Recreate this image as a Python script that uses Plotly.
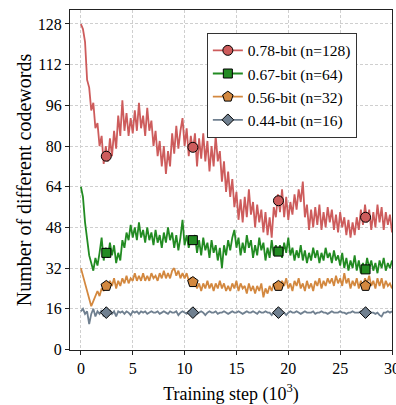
import plotly.graph_objects as go

# ---------------- data ----------------
step_size = 0.2  # training-step grid (10^3 steps)
n_points = 151
steps = [round(i * step_size, 2) for i in range(n_points)]

red_128 = [
    128, 126, 121, 106, 103, 94, 97, 87, 89, 80,
    84, 73, 80, 74, 83, 76, 86, 79, 92, 84,
    98, 86, 93, 84, 91, 85, 94, 86, 97, 87,
    92, 84, 95, 86, 90, 80, 86, 76, 82, 72,
    80, 69, 78, 72, 85, 77, 88, 79, 86, 91,
    80, 87, 76, 84, 78, 85, 72, 83, 75, 85,
    74, 82, 70, 80, 72, 84, 74, 78, 66, 74,
    62, 70, 60, 67, 56, 62, 51, 59, 50, 60,
    52, 63, 53, 58, 48, 57, 50, 55, 46, 54,
    45, 52, 44, 56, 52, 61, 54, 63, 52, 60,
    51, 58, 53, 61, 55, 63, 58, 66, 52, 57,
    47, 55, 48, 56, 49, 57, 47, 54, 48, 56,
    50, 55, 47, 53, 46, 54, 48, 52, 45, 51,
    44, 50, 45, 52, 47, 55, 49, 57, 50, 55,
    47, 54, 48, 57, 50, 56, 47, 54, 49, 53,
    46,
]

green_64 = [
    64, 60, 50, 44, 37, 34, 31, 36, 33, 38,
    44, 35, 40, 36, 42, 37, 41, 34, 38, 35,
    43, 40, 46, 43, 49, 44, 48, 43, 50, 44,
    47, 42, 48, 43, 46, 41, 47, 42, 45, 40,
    46, 42, 48, 43, 46, 40, 45, 39, 44, 51,
    41, 45, 40, 44, 42, 45, 38, 43, 37, 44,
    39, 42, 36, 43, 38, 41, 35, 40, 32, 41,
    37, 43, 39, 44, 47, 40, 44, 37, 42, 38,
    45, 40, 43, 36, 41, 37, 44, 39, 42, 35,
    40, 36, 43, 37, 41, 38, 41, 36, 42, 38,
    44, 37, 40, 35, 39, 36, 41, 35, 39, 34,
    38, 35, 40, 36, 39, 34, 38, 35, 40, 36,
    38, 34, 39, 35, 37, 33, 38, 32, 36, 31,
    35, 32, 37, 31, 35, 30, 34, 31, 36, 32,
    35, 31, 34, 30, 35, 32, 36, 31, 34, 32,
    35,
]

orange_32 = [
    32, 29, 26, 23, 20, 17, 19, 21, 23, 21,
    24, 23, 26, 24, 27, 25, 28, 24, 27, 25,
    28, 26, 29, 26, 28, 27, 30, 27, 29, 27,
    30, 27, 29, 27, 30, 28, 29, 27, 30, 28,
    31, 28, 30, 28, 31, 32, 29, 31, 28, 30,
    28, 30, 27, 28, 26, 27, 24, 26, 23, 26,
    24, 27, 24, 26, 23, 26, 24, 27, 24, 26,
    23, 25, 23, 26, 24, 27, 23, 26, 24, 25,
    22, 26, 23, 25, 22, 25, 23, 26, 20.5, 24,
    22, 25, 23, 26, 24, 26, 24, 27, 25, 28,
    24, 26, 23, 27, 25, 28, 24, 26, 23, 27,
    24, 26, 23, 27, 25, 28, 24, 27, 25, 28,
    26, 28, 25, 29, 26, 28, 25, 30, 26, 28,
    24, 27, 25, 28, 24, 27, 25, 28, 26, 29,
    25, 27, 24, 28, 25, 28, 24, 27, 25, 26,
    24,
]

gray_16 = [
    15, 16, 14, 15, 10, 14, 16, 13, 15, 14,
    15.5, 13, 15, 14, 15.5, 14, 15, 13, 15, 14.5,
    15, 14, 15, 14.5, 13.5, 15, 14.5, 15, 14, 15,
    14.5, 15, 14, 14.5, 15, 14.5, 14.5, 15, 14, 14.5,
    15, 14.5, 14, 15, 14.5, 14.5, 15, 13.5, 14.5, 15,
    14.5, 14, 15, 14.5, 14.5, 15, 14, 14.5, 15, 14.5,
    13.5, 14.5, 15, 14.5, 14.5, 15, 14, 14.5, 14.5, 15,
    14.5, 14, 14.5, 15, 14.5, 14.5, 15, 14.5, 14, 14.5,
    15, 14.5, 14.5, 15, 14.5, 14, 15, 14.5, 14.5, 15,
    14.5, 14.5, 13.5, 14.5, 14.5, 14.5, 15, 14.5, 14.5, 13.5,
    14.5, 15, 14.5, 14.5, 15, 14.5, 14, 14.5, 15, 14.5,
    14.5, 14.5, 15, 14, 14.5, 14.5, 15, 14.5, 14.5, 14,
    14.5, 15, 14.5, 14.5, 14.5, 15, 14.5, 14.5, 14, 14.5,
    14.5, 15, 14.5, 14.5, 14.5, 15, 14.5, 14.5, 14.5, 15,
    14.5, 14.5, 14, 14.5, 13.5, 13, 14.5, 14.5, 15, 14.5,
    15,
]

marker_steps = [2.45, 10.8, 19.05, 27.45]
red_markers = [76, 79.5, 58.5, 52]
green_markers = [38, 43, 38.5, 31.5]
orange_markers = [25, 26.5, 25, 25]
gray_markers = [14.5, 14.5, 14.5, 14.5]

series_names = ["0.78-bit (n=128)", "0.67-bit (n=64)", "0.56-bit (n=32)", "0.44-bit (n=16)"]
y_ticks = [0, 16, 32, 48, 64, 80, 96, 112, 128]
x_ticks = [0, 5, 10, 15, 20, 25, 30]

# ---------------- styling ----------------
FONT = "Liberation Serif"
styles = [
    dict(color="#cd5c5c", symbol="circle", size=10),
    dict(color="#228b22", symbol="square", size=9),
    dict(color="#d3883f", symbol="pentagon", size=11),
    dict(color="#708090", symbol="diamond", size=9),
]
lines = [red_128, green_64, orange_32, gray_16]
markers = [red_markers, green_markers, orange_markers, gray_markers]

fig = go.Figure()
for name, ys, ms, st in zip(series_names, lines, markers, styles):
    fig.add_trace(go.Scatter(
        x=steps, y=ys, mode="lines", showlegend=False, hoverinfo="skip",
        line=dict(color=st["color"], width=1.8),
    ))
for name, ys, ms, st in zip(series_names, lines, markers, styles):
    fig.add_trace(go.Scatter(
        x=marker_steps, y=ms, mode="markers", showlegend=False,
        marker=dict(color=st["color"], symbol=st["symbol"], size=st["size"],
                    line=dict(color="black", width=1)),
    ))
for name, ys, ms, st in zip(series_names, lines, markers, styles):
    fig.add_trace(go.Scatter(
        x=[None], y=[None], mode="lines+markers", name=name,
        line=dict(color=st["color"], width=1.8),
        marker=dict(color=st["color"], symbol=st["symbol"], size=st["size"],
                    line=dict(color="black", width=1)),
    ))

axis_common = dict(
    showline=True, mirror=True, linecolor="#222", linewidth=1.3,
    ticks="outside", ticklen=4, tickwidth=1, tickcolor="#222",
    showgrid=True, gridcolor="#cfcfcf", gridwidth=0.8, griddash="3px,2px",
    zeroline=False, automargin=False, ticklabeloverflow="allow",
    tickfont=dict(family=FONT, size=16, color="black"),
)

fig.update_layout(
    width=396, height=405,
    margin=dict(l=70, r=4, t=10, b=55),
    paper_bgcolor="white", plot_bgcolor="white",
    font=dict(family=FONT, color="black"),
    xaxis=dict(range=[-1.05, 30], tickvals=x_ticks,
               title=dict(text="Training step (10<sup>3</sup>)",
                          font=dict(family=FONT, size=18), standoff=18),
               **axis_common),
    yaxis=dict(range=[-0.2, 133.5], tickvals=y_ticks,
               title=dict(text="Number of different codewords",
                          font=dict(family=FONT, size=20), standoff=0),
               **axis_common),
    legend=dict(x=0.425, y=0.933, xanchor="left", yanchor="top",
                bgcolor="white", bordercolor="#333", borderwidth=1,
                font=dict(family=FONT, size=15.5), tracegroupgap=0),
)

fig.write_html("out.html",
               config={"displayModeBar": False},
               post_script="document.body.style.margin='0';document.body.style.overflow='hidden';")
